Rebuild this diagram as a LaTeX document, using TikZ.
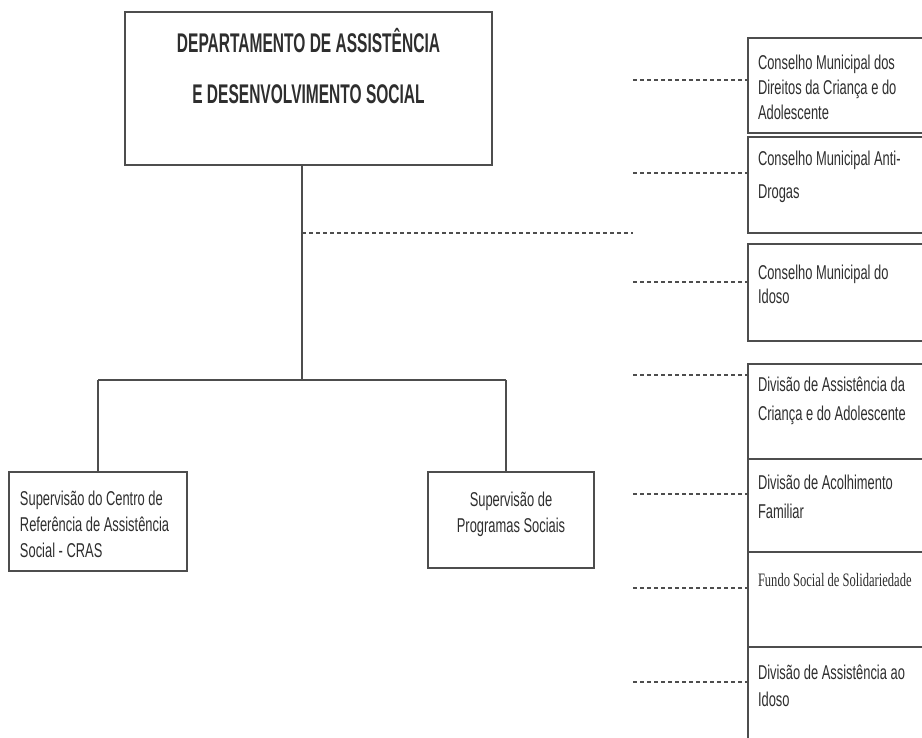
\documentclass[tikz,border=0pt]{standalone}
\usepackage{fontspec}
\setmainfont{Liberation Sans}
\newfontfamily\nrwfont[FakeStretch=0.645]{Liberation Sans}
\newfontfamily\ttlfont[FakeStretch=0.575]{Liberation Sans}
\newfontfamily\fundofont[FakeStretch=0.66]{Liberation Serif}
\definecolor{linec}{HTML}{4d4d4d}
\definecolor{textc}{HTML}{2e2e2e}
% #1 height, #2 width, #3 left pad, #4 first baseline, #5 baselineskip, #6 text
\newcommand\lbox[6]{\parbox[c][#1pt][t]{#2pt}{\raggedright\leftskip=#3pt\relax
  \nrwfont\fontsize{20}{#5}\selectfont\rule{0pt}{#4pt}#6}}
\newcommand\cbox[5]{\parbox[c][#1pt][t]{#2pt}{\centering
  \nrwfont\fontsize{20}{#4}\selectfont\rule{0pt}{#3pt}#5}}
\begin{document}
\begin{tikzpicture}[x=1pt,y=-1pt,
  boxstyle/.style={draw=linec, line width=1.5pt, inner sep=0pt, outer sep=0pt,
    anchor=north west, text=textc},
  solidline/.style={draw=linec, line width=1.4pt},
  dotline/.style={draw=linec, line width=1.8pt, dash pattern=on 3.5pt off 3.5pt}]
\useasboundingbox (0,0) rectangle (922,738);

% main box
\node[boxstyle] (main) at (125,12) {\parbox[c][153pt][t]{367pt}{\centering
  \ttlfont\bfseries\fontsize{27}{51}\selectfont\rule{0pt}{41pt}DEPARTAMENTO DE ASSISTÊNCIA\\
  E DESENVOLVIMENTO SOCIAL}};

% lower boxes
\node[boxstyle] (cras) at (9,472) {\lbox{99}{178}{11}{33}{26}{Supervisão do Centro de\\Referência de Assistência\\Social - CRAS}};
\node[boxstyle] (prog) at (428,472) {\cbox{96}{166}{34}{26}{Supervisão de\\Programas Sociais}};

% right column
\node[boxstyle] (b1) at (748,38) {\lbox{95}{190}{10}{32}{25}{Conselho Municipal dos\\Direitos da Criança e do\\Adolescente}};
\node[boxstyle] (b2) at (748,137) {\lbox{96}{190}{10}{29}{33}{Conselho Municipal Anti-\\Drogas}};
\node[boxstyle] (b3) at (748,244) {\lbox{97}{190}{10}{36}{24}{Conselho Municipal do\\Idoso}};
\node[boxstyle] (b4) at (748,364) {\lbox{95}{190}{10}{27}{29}{Divisão de Assistência da\\Criança e do Adolescente}};
\node[boxstyle] (b5) at (748,459) {\lbox{93}{190}{10}{30}{29}{Divisão de Acolhimento\\Familiar}};
\node[boxstyle] (b6) at (748,552) {\parbox[c][95pt][t]{190pt}{\raggedright\leftskip=10pt\relax
  \fundofont\fontsize{19}{24}\selectfont\rule{0pt}{34pt}Fundo Social de Solidariedade}};
\node[boxstyle] (b7) at (748,647) {\lbox{110}{190}{10}{32}{27}{Divisão de Assistência ao\\Idoso}};

% tree connectors
\coordinate (j0) at (302,233);
\coordinate (j1) at (302,380);
\coordinate (jl) at (98,380);
\coordinate (jr) at (506,380);
\coordinate (d0) at (633,233);
\draw[solidline] (main.south -| j1) -- (j1);
\draw[solidline] (jl) -- (jr);
\draw[solidline] (jl) -- (cras.north -| jl);
\draw[solidline] (jr) -- (prog.north -| jr);
\draw[dotline] (j0) -- (d0);

% dotted links to right column
\coordinate (r1) at (633,80);
\coordinate (r2) at (633,173);
\coordinate (r3) at (633,282);
\coordinate (r4) at (633,375);
\coordinate (r5) at (633,494);
\coordinate (r6) at (633,588);
\coordinate (r7) at (633,682);
\draw[dotline] (r1) -- (r1 -| b1.west);
\draw[dotline] (r2) -- (r2 -| b2.west);
\draw[dotline] (r3) -- (r3 -| b3.west);
\draw[dotline] (r4) -- (r4 -| b4.west);
\draw[dotline] (r5) -- (r5 -| b5.west);
\draw[dotline] (r6) -- (r6 -| b6.west);
\draw[dotline] (r7) -- (r7 -| b7.west);
\end{tikzpicture}
\end{document}
